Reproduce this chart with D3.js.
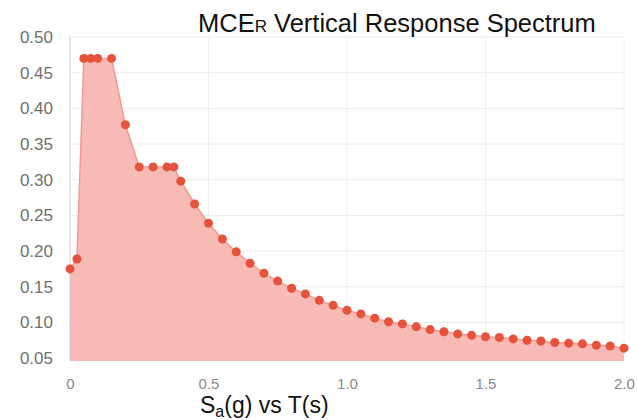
<!DOCTYPE html>
<html>
<head>
<meta charset="utf-8">
<script src="https://cdn.jsdelivr.net/npm/d3@7"></script>
<style>
  body { margin: 0; background: #fff; }
  svg { display: block; font-family: "Liberation Sans", Arial, sans-serif; }
</style>
</head>
<body>
<div id="chart"></div>
<script>
// period T (s)
const periods = [0, 0.025, 0.05, 0.075, 0.1, 0.15, 0.2, 0.25, 0.3, 0.35, 0.375, 0.4,
  0.45, 0.5, 0.55, 0.6, 0.65, 0.7, 0.75, 0.8, 0.85, 0.9, 0.95, 1.0,
  1.05, 1.1, 1.15, 1.2, 1.25, 1.3, 1.35, 1.4, 1.45, 1.5,
  1.55, 1.6, 1.65, 1.7, 1.75, 1.8, 1.85, 1.9, 1.95, 2.0]

// spectral acceleration Sa (g)
const accel = [0.175, 0.189, 0.47, 0.47, 0.47, 0.47, 0.377, 0.318, 0.318, 0.318, 0.318, 0.298,
  0.266, 0.239, 0.217, 0.199, 0.183, 0.169, 0.158, 0.148, 0.140, 0.131, 0.124, 0.117,
  0.112, 0.106, 0.101, 0.098, 0.094, 0.090, 0.087, 0.084, 0.082, 0.080,
  0.079, 0.077, 0.075, 0.074, 0.072, 0.071, 0.070, 0.068, 0.067, 0.064]

const yTicks = [0.05, 0.10, 0.15, 0.20, 0.25, 0.30, 0.35, 0.40, 0.45, 0.50]
const xTicks = [0, 0.5, 1.0, 1.5, 2.0]
const xTickLabels = ["0", "0.5", "1.0", "1.5", "2.0"]

const width = 637
const height = 420
const margin = {top: 37, right: 13, bottom: 59, left: 70}

const data = periods.map((t, i) => ({t, sa: accel[i]}))

const x = d3.scaleLinear()
  .domain([0, 2])
  .range([margin.left, width - margin.right])

const y = d3.scaleLinear()
  .domain([0.046, 0.5])
  .range([height - margin.bottom, margin.top])

const svg = d3.select("#chart").append("svg")
  .attr("width", width)
  .attr("height", height)

// grid
svg.append("g")
  .attr("class", "grid")
  .selectAll("line")
  .data(yTicks)
  .join("line")
  .attr("x1", margin.left)
  .attr("x2", width - margin.right)
  .attr("y1", d => y(d))
  .attr("y2", d => y(d))
  .attr("stroke", "#ececec")
  .attr("stroke-width", 1)

svg.append("g")
  .attr("class", "grid")
  .selectAll("line")
  .data(xTicks.slice(1))
  .join("line")
  .attr("x1", d => x(d))
  .attr("x2", d => x(d))
  .attr("y1", margin.top)
  .attr("y2", height - margin.bottom)
  .attr("stroke", "#f0f0f0")
  .attr("stroke-width", 1)

// area
const area = d3.area()
  .x(d => x(d.t))
  .y0(y(0.046))
  .y1(d => y(d.sa))

svg.append("path")
  .datum(data)
  .attr("d", area)
  .attr("fill", "#f7bab5")

const line = d3.line()
  .x(d => x(d.t))
  .y(d => y(d.sa))

svg.append("path")
  .datum(data)
  .attr("d", line)
  .attr("fill", "none")
  .attr("stroke", "#f09a93")
  .attr("stroke-width", 1.5)

// left axis line
svg.append("line")
  .attr("x1", margin.left)
  .attr("x2", margin.left)
  .attr("y1", margin.top)
  .attr("y2", height - margin.bottom)
  .attr("stroke", "#cfcfcf")

svg.append("g")
  .selectAll("circle")
  .data(data)
  .join("circle")
  .attr("cx", d => x(d.t))
  .attr("cy", d => y(d.sa))
  .attr("r", 4.5)
  .attr("fill", "#e6523a")

// axes
const yAxis = d3.axisLeft(y)
  .tickValues(yTicks)
  .tickSize(0)
  .tickPadding(17)
  .tickFormat(d3.format(".2f"))

svg.append("g")
  .attr("transform", `translate(${margin.left},0)`)
  .call(yAxis)
  .call(g => g.select(".domain").remove())
  .call(g => g.selectAll("text")
    .attr("fill", "#707070")
    .style("font-size", "17px")
    .style("font-family", "Liberation Sans, Arial, sans-serif"))

const xAxis = d3.axisBottom(x)
  .tickValues(xTicks)
  .tickSize(0)
  .tickPadding(17)
  .tickFormat((d, i) => xTickLabels[i])

svg.append("g")
  .attr("transform", `translate(0,${height - margin.bottom})`)
  .call(xAxis)
  .call(g => g.select(".domain").remove())
  .call(g => g.selectAll("text")
    .attr("fill", "#8a8a8a")
    .style("font-size", "15px")
    .style("font-family", "Liberation Sans, Arial, sans-serif"))

// title
const title = svg.append("text")
  .attr("x", 198)
  .attr("y", 32)
  .attr("fill", "#111")
  .style("font-size", "25.5px")
title.append("tspan").text("MCE")
title.append("tspan").style("font-size", "17px").text("R")
title.append("tspan").text(" Vertical Response Spectrum")

// x axis title
const xTitle = svg.append("text")
  .attr("x", 200)
  .attr("y", 413)
  .attr("fill", "#111")
  .style("font-size", "23px")
xTitle.append("tspan").text("S")
xTitle.append("tspan").attr("dy", 4).style("font-size", "16px").text("a")
xTitle.append("tspan").attr("dy", -4).text("(g) vs T(s)")
</script>
</body>
</html>
